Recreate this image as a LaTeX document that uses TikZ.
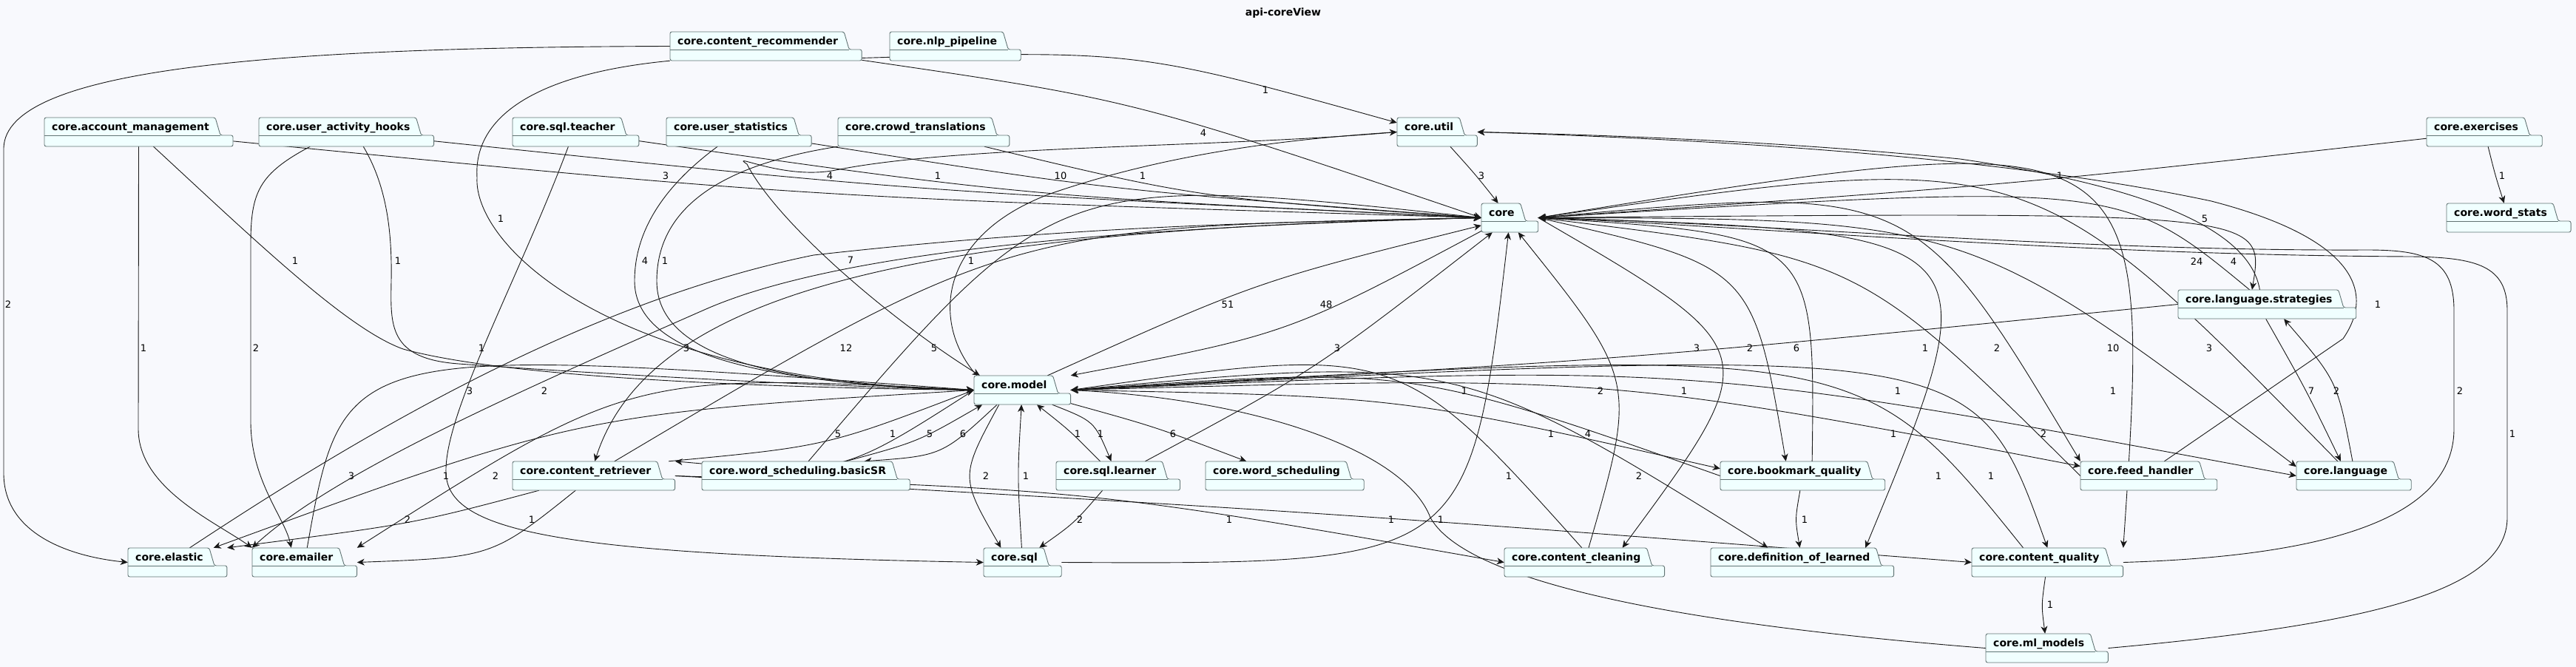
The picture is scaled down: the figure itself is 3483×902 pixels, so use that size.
\documentclass[tikz,border=0pt]{standalone}
\usepackage{fontspec}
\setmainfont{DejaVu Sans}
\usetikzlibrary{arrows.meta,fit,calc}
\pgfdeclarelayer{bg}
\pgfdeclarelayer{boxes}
\pgfsetlayers{bg,boxes,main}
\definecolor{bgcol}{RGB}{248,249,253}
\definecolor{pkgfill}{RGB}{240,255,255}
\definecolor{pkgline}{RGB}{98,116,116}
\definecolor{edgecol}{RGB}{24,24,24}

\begin{document}
\begin{tikzpicture}[
    x=1pt, y=-1pt,
    pkgtext/.style={font=\fontsize{14}{16}\selectfont\bfseries, inner sep=0pt, anchor=base west},
    pkgbox/.style={fill=pkgfill, draw=pkgline, line width=0.9pt, rounded corners=2.5pt},
    dep/.style={->, draw=edgecol, line width=0.9pt},
    lbl/.style={font=\fontsize{13}{15}\selectfont, inner sep=0pt, text=black},
    >={Stealth[length=10pt, width=9pt, inset=3pt]}
]
\useasboundingbox (0,0) rectangle (3483,902);

% Title
\node[font=\fontsize{14}{16}\selectfont\bfseries] (title) at (1735,18) {api-coreView};

% Packages
\foreach \nm/\px/\py/\txt in {
    cr/906/43/core.content\_recommender,
    nlp/1203/43/core.nlp\_pipeline,
    acct/60/159/core.account\_management,
    hooks/350/159/core.user\_activity\_hooks,
    teacher/693/159/core.sql.teacher,
    stats/901/159/core.user\_statistics,
    crowd/1133/159/core.crowd\_translations,
    util/1889/159/core.util,
    exer/3281/159/core.exercises,
    core/2003/275/core,
    wstats/3308/275/core.word\_stats,
    strat/2945/392/core.language.strategies,
    model/1317/508/core.model,
    retr/693/624/core.content\_retriever,
    basicsr/949/624/core.word\_scheduling.basicSR,
    learner/1428/624/core.sql.learner,
    wsched/1630/624/core.word\_scheduling,
    bmq/2326/624/core.bookmark\_quality,
    feed/2813/624/core.feed\_handler,
    lang/3105/624/core.language,
    elastic/173/741/core.elastic,
    emailer/341/741/core.emailer,
    sql/1330/741/core.sql,
    clean/2034/741/core.content\_cleaning,
    defl/2313/741/core.definition\_of\_learned,
    cq/2666/741/core.content\_quality,
    ml/2685/857/core.ml\_models} {
    \node[pkgtext] (\nm-t) at (\px+10,\py+17) {\txt};
    \begin{pgfonlayer}{boxes}
        \filldraw[pkgbox] let \p1=(\nm-t.east) in
            (\px,\py+39) -- (\px,\py) -- ({\x1+8pt},{-\py*1pt}) -- ({\x1+15pt},{-(\py+24)*1pt})
            -- ({\x1+32pt},{-(\py+24)*1pt}) -- ({\x1+32pt},{-(\py+39)*1pt}) coordinate (\nm-br) -- cycle;
        \draw[pkgbox, fill=none] let \p1=(\nm-t.east) in
            (\px,\py+24) -- ({\x1+15pt},{-(\py+24)*1pt});
    \end{pgfonlayer}
    \node[fit={(\px,\py) (\nm-br)}, inner sep=0pt] (\nm) {};
}

\begin{pgfonlayer}{bg}
\fill[bgcol] (0,0) rectangle (3483,902);

% Dependencies, bent to pass by their counts
\foreach \src/\dst/\lx/\ly/\lab in {
    cr/core.west/1627/180/4,
    cr.-7/util.167/1711/122/1,
    acct/core.west/900/238/3,
    hooks/core.west/1122/238/4,
    teacher/core.west/1268/238/1,
    stats/core.west/1434/238/10,
    crowd/core.west/1545/238/1,
    util/core/2003/238/3,
    exer/core.east/2785/238/1,
    exer/wstats/3383/238/1,
    strat/core.east/2970/354/24,
    core.east/strat.136/3020/354/4,
    strat.west/model.east/2294/471/3,
    model.30/core.195/1660/412/51,
    core.205/model.north east/1793/412/48,
    learner/core.220/1808/471/3,
    sql.east/core.265/1980/529/1,
    clean/core.300/2164/529/2,
    core.east/clean.21/2277/529/1,
    core.east/bmq.139/2366/471/2,
    bmq.57/core.east/2429/471/6,
    feed.west/core.east/2603/471/1,
    core.east/feed.north west/2700/471/2,
    core.east/lang.171/2857/471/10,
    lang.138/core.east/2987/471/3,
    core.east/defl.13/2566/529/1,
    core.east/cq.north east/2857/529/1,
    strat.-95/lang.132/3125/529/7,
    lang.95/strat.-41/3159/529/2,
    cq/ml/2772/818/1,
    bmq/defl/2440/703/1,
    model.east/bmq.175/2097/587/1,
    bmq.west/model.east/2147/587/4,
    model.east/feed.172/2560/587/1,
    model.east/lang.west/2763/587/2,
    model.east/defl.157/2216/644/2,
    model.east/cq.north/2692/644/1,
    cq.149/model.east/2621/644/1,
    clean.100/model.east/2040/644/1,
    model/wsched/1586/587/6,
    model.-26/learner.115/1488/587/1,
    learner.141/model.-45/1457/587/1,
    model.-148/sql.146/1333/644/2,
    sql/model/1387/644/1,
    learner.-137/sql.41/1460/703/2,
    model.-150/basicsr.14/1302/587/6,
    basicsr.20/model.-160/1257/587/5,
    basicsr.80/core.west/1263/471/5,
    retr.35/core.west/1144/471/12,
    retr.11/model.west/1133/587/5,
    model.west/retr.north east/1207/587/1,
    retr.east/clean.west/1662/703/1,
    retr.east/cq.west/1881/703/1,
    retr/elastic.north east/551/703/2,
    retr/emailer.east/719/703/1,
    model.west/emailer.north east/670/644/2,
    model.west/elastic.22/603/644/1,
    emailer.80/model.west/475/644/3} {
    \draw[dep] let \p1=(\src), \p2=(\dst), \p3=(\lx-8,\ly),
            \n1={veclen((\x3-\x1)/100,(\y3-\y1)/100)},
            \n2={veclen((\x2-\x3)/100,(\y2-\y3)/100)},
            \n3={max(0.2,min(0.8,\n1/(\n1+\n2)))} in
        (\lx,\ly) node[lbl] {\lab}
        (\src) .. controls ({(\x3-(1-\n3)^2*\x1-\n3^2*\x2)/(2*\n3*(1-\n3))},
                            {(\y3-(1-\n3)^2*\y1-\n3^2*\y2)/(2*\n3*(1-\n3))}) .. (\dst);
}

% Long routes round the sides
\draw[dep] (11,412) node[lbl] {2} (cr.west) .. controls (350,64) and (8,95) .. (5,200)
    -- (5,640) .. controls (5,720) and (90,752) .. (elastic.west);
\draw[dep] (194,471) node[lbl] {1} (acct.south) -- (187,580)
    .. controls (187,660) and (290,705) .. (emailer.north west);
\draw[dep] (346,471) node[lbl] {2} ([xshift=-49pt]hooks.south) .. controls (350,235) and (339,260) .. (339,330)
    -- (339,570) .. controls (339,650) and (385,700) .. ([xshift=53pt]emailer.north west);
\draw[dep] (651,471) node[lbl] {1} ([xshift=-10pt]teacher.south) .. controls (700,380) and (600,560) .. (603,640)
    .. controls (606,720) and (760,750) .. (sql.west);
\draw[dep] (677,296) node[lbl] {1} (cr.south west) .. controls (720,100) and (640,160) .. (645,240)
    .. controls (640,330) and (820,515) .. (model.west);
\draw[dep] (399,353) node[lbl] {1} ([xshift=20pt]acct.south) .. controls (350,330) and (470,445) .. (545,472)
    .. controls (700,515) and (1100,525) .. (model.west);
\draw[dep] (538,353) node[lbl] {1} ([xshift=23pt]hooks.south) .. controls (525,255) and (530,320) .. (529,380)
    .. controls (528,440) and (525,485) .. (620,492) .. controls (800,505) and (1100,522) .. (model.west);
\draw[dep] (872,353) node[lbl] {4} ([xshift=-29pt]stats.south) .. controls (900,250) and (858,310) .. (858,380)
    .. controls (858,470) and (1000,518) .. (model.west);
\draw[dep] (899,353) node[lbl] {1} (crowd.south west) .. controls (960,225) and (888,290) .. (888,380)
    .. controls (888,470) and (1010,520) .. (model.west);
\draw[dep] (928,471) node[lbl] {3} (core.west) .. controls (1250,310) and (880,390) .. (retr.86);
\draw[dep] (635,529) node[lbl] {3} (elastic.50) .. controls (470,600) and (780,410) .. (1100,345)
    .. controls (1500,300) and (1800,300) .. (core.west);
\draw[dep] (736,529) node[lbl] {2} (core.west) .. controls (1600,305) and (1150,330) .. (950,420)
    .. controls (700,530) and (450,640) .. (emailer.north west);

% util and model
\draw[dep] (1150,352) node[lbl] {7} (util.west) .. controls (1650,200) and (1300,196) .. (1130,230)
    .. controls (1060,244) and (985,205) .. (1010,222)
    .. controls (1050,300) and (1200,430) .. ([xshift=8pt]model.north west);
\draw[dep] (1313,353) node[lbl] {1} ([xshift=4pt]model.north west) .. controls (1260,440) and (1265,320) .. (1420,262)
    .. controls (1600,200) and (1780,186) .. (util.west);
\draw[dep] (1948,703) node[lbl] {1} (ml.west) .. controls (2350,850) and (1990,800) .. (1934,700)
    .. controls (1900,610) and (1700,540) .. (model.east);

% right side
\draw[dep] (3215,412) node[lbl] {1} ([xshift=21pt]feed.north) -- (3168,458)
    .. controls (3215,390) and (3175,320) .. (2990,272) .. controls (2700,210) and (2300,188) .. (util.east);
\draw[dep] (2981,296) node[lbl] {5} ([xshift=-10pt]strat.north) .. controls (3045,330) and (2960,260) .. (2650,215)
    .. controls (2400,190) and (2150,182) .. (util.east);
\draw[dep] (3326,529) node[lbl] {2} (cq.east) .. controls (3150,752) and (3318,700) .. (3318,580)
    -- (3318,420) .. controls (3318,350) and (3280,338) .. (3200,338)
    .. controls (2800,340) and (2350,300) .. (core.east);
\draw[dep] (3397,587) node[lbl] {1} (ml.east) .. controls (3200,845) and (3390,800) .. (3390,700)
    -- (3390,420) .. controls (3390,360) and (3350,348) .. (3260,347)
    .. controls (2800,345) and (2350,305) .. (core.east);
\end{pgfonlayer}
\end{tikzpicture}
\end{document}
